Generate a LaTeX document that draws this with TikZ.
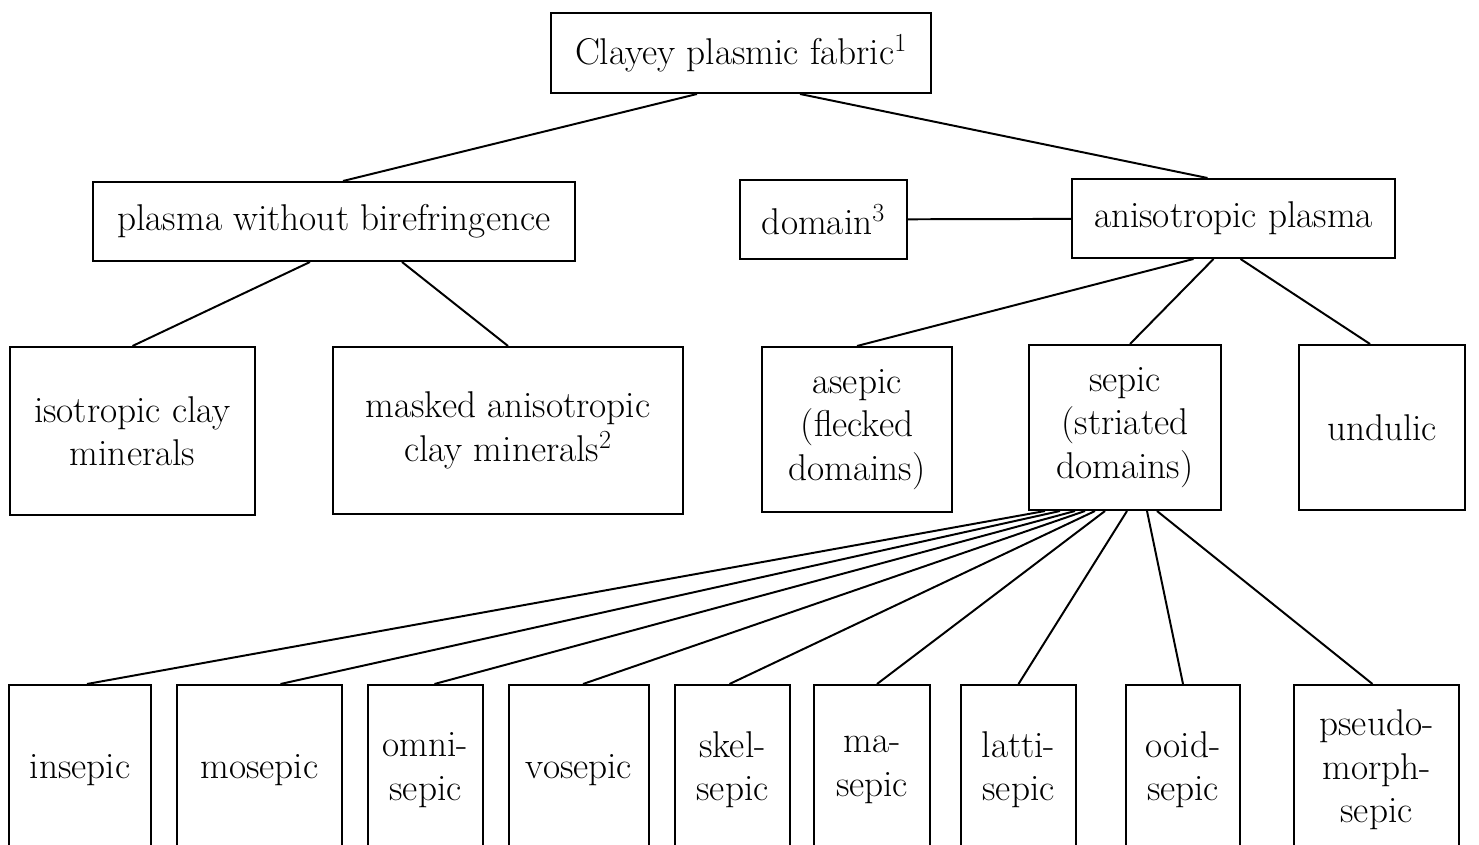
\documentclass[tikz,border=0pt]{standalone}
\usetikzlibrary{calc}
\begin{document}
\begin{tikzpicture}[x=0.025cm,y=-0.025cm,
  box/.style={draw,rectangle,line width=1.4pt,align=center,inner sep=0pt,
    font=\fontsize{26.5}{30.8}\selectfont},
  link/.style={line width=1.4pt}]

  \useasboundingbox (0,0) rectangle (1479,845);

  \node[box,minimum width=9.5cm,minimum height=2cm] at (741,53) (fabric) {Clayey plasmic fabric\textsuperscript{1}};

  \node[box,minimum width=12.05cm,minimum height=1.975cm] at (334,221.5) (nobiref) {plasma without birefringence};
  \node[box,minimum width=4.175cm,minimum height=1.975cm] at (823.5,219.5) (domain) {domain\textsuperscript{3}};
  \node[box,minimum width=8.075cm,minimum height=1.975cm] at (1233.5,218.5) (aniso) {anisotropic plasma};

  \node[box,minimum width=6.125cm,minimum height=4.2cm] at (132.5,431) (isoclay) {isotropic clay\\minerals};
  \node[box,minimum width=8.75cm,minimum height=4.175cm] at (508,430.5) (masked) {masked anisotropic\\clay minerals\textsuperscript{2}};
  \node[box,minimum width=4.75cm,minimum height=4.125cm] at (857,429.5) (asepic) {asepic\\(flecked\\domains)};
  \node[box,minimum width=4.8cm,minimum height=4.125cm] at (1125,427.5) (sepic) {sepic\\(striated\\domains)};
  \node[box,minimum width=4.15cm,minimum height=4.125cm] at (1382,427.5) (undulic) {undulic};

  \node[box,minimum width=3.55cm,minimum height=4.25cm] at (80,770) (insepic) {insepic};
  \node[box,minimum width=4.125cm,minimum height=4.25cm] at (259.5,770) (mosepic) {mosepic};
  \node[box,minimum width=2.875cm,minimum height=4.25cm] at (425.5,770) (omnisepic) {omni-\\sepic};
  \node[box,minimum width=3.5cm,minimum height=4.25cm] at (579,770) (vosepic) {vosepic};
  \node[box,minimum width=2.875cm,minimum height=4.25cm] at (732.5,770) (skelsepic) {skel-\\sepic};
  \node[box,minimum width=2.9cm,minimum height=4.25cm] at (872,770) (masepic) {ma-\\sepic};
  \node[box,minimum width=2.875cm,minimum height=4.25cm] at (1018.5,770) (lattisepic) {latti-\\sepic};
  \node[box,minimum width=2.85cm,minimum height=4.25cm] at (1183,770) (ooidsepic) {ooid-\\sepic};
  \node[box,minimum width=4.125cm,minimum height=4.25cm] at (1376.5,770) (pseudosepic) {pseudo-\\morph-\\sepic};

  \draw[link] ($(fabric.south)+(-44,0)$)--($(nobiref.north)+(9,0)$);
  \draw[link] ($(fabric.south)+(59,0)$)--($(aniso.north)+(-26,0)$);
  \draw[link] (domain)--(aniso);

  \draw[link] ($(nobiref.south)+(-24,0)$)--(isoclay.north);
  \draw[link] ($(nobiref.south)+(68,0)$)--(masked.north);

  \draw[link] ($(aniso.south)+(-40,0)$)--(asepic.north);
  \draw[link] ($(aniso.south)+(-20,0)$)--($(sepic.north)+(5,0)$);
  \draw[link] ($(aniso.south)+(7,0)$)--($(undulic.north)+(-12,0)$);

  \draw[link] ($(sepic.south)+(-80,0)$)--($(insepic.north)+(7,0)$);
  \draw[link] ($(sepic.south)+(-65,0)$)--($(mosepic.north)+(21,0)$);
  \draw[link] ($(sepic.south)+(-50,0)$)--($(omnisepic.north)+(9,0)$);
  \draw[link] ($(sepic.south)+(-40,0)$)--($(vosepic.north)+(4,0)$);
  \draw[link] ($(sepic.south)+(-30,0)$)--($(skelsepic.north)+(-3,0)$);
  \draw[link] ($(sepic.south)+(-20,0)$)--($(masepic.north)+(5,0)$);
  \draw[link] ($(sepic.south)+(2,0)$)--(lattisepic.north);
  \draw[link] ($(sepic.south)+(22,0)$)--(ooidsepic.north);
  \draw[link] ($(sepic.south)+(32,0)$)--($(pseudosepic.north)+(-4,0)$);

\end{tikzpicture}
\end{document}
